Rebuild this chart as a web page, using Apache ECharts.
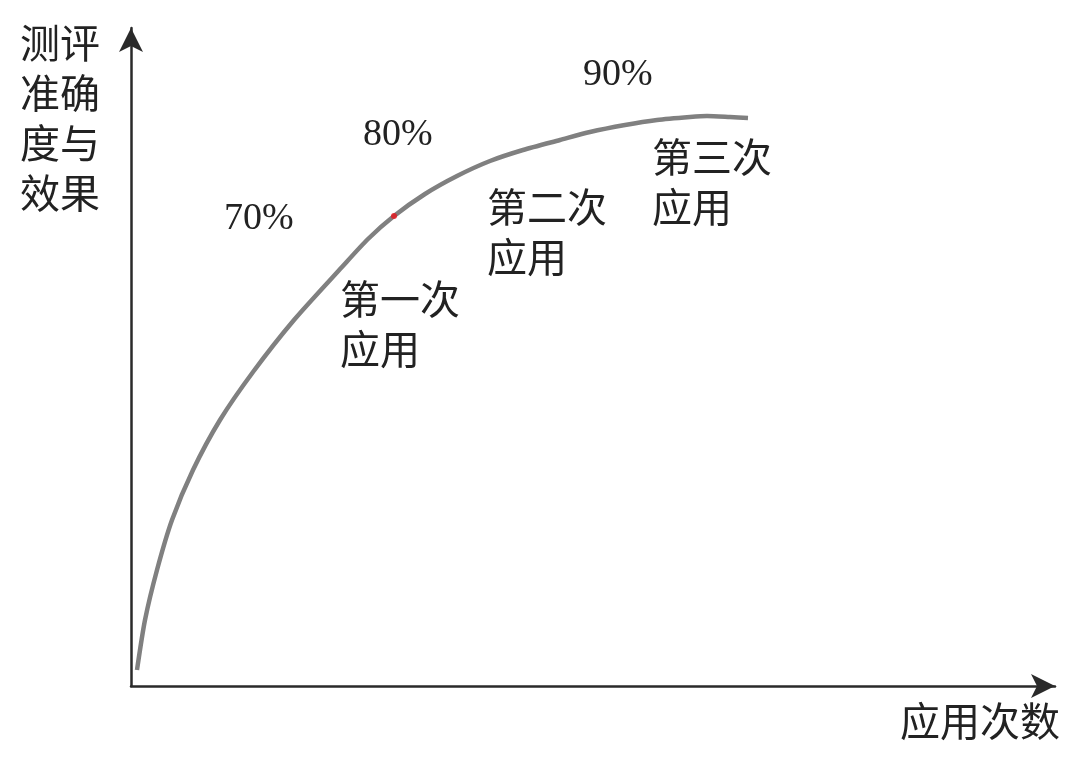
<!DOCTYPE html>
<html>
<head>
<meta charset="utf-8">
<script src="https://cdn.jsdelivr.net/npm/echarts@6/dist/echarts.min.js"></script>
<style>
  html, body { margin: 0; padding: 0; background: #fff; }
  #chart { width: 1080px; height: 764px; }
</style>
</head>
<body>
<div id="chart"></div>
<script>
// 曲线取点（应用次数, 测评准确度与效果）
const curveX = [6, 14, 26, 41, 62, 89, 122, 163, 211, 237, 263, 294, 326, 359, 392, 429, 459, 494, 526, 559, 576, 599, 617]
const curveY = [16, 66, 116, 166, 216, 266, 314, 366, 419, 447, 470, 492, 510, 525, 536, 546, 554, 561, 566, 569, 570, 569, 568]
const dotPoint = [263, 470]
const pctLabels = ['70%', '80%', '90%']
const stageLabels = ['第一次\n应用', '第二次\n应用', '第三次\n应用']

const chartDom = document.getElementById('chart')
const myChart = echarts.init(chartDom)

const serif = '"Liberation Serif", "DejaVu Serif", serif'
const cjk = '"Liberation Serif", "Noto Sans CJK SC", serif'

function txt(text, x, y, size, font, lh) {
  return {
    type: 'text',
    left: x,
    top: y,
    style: {
      text: text,
      fill: '#222',
      font: size + 'px ' + font,
      lineHeight: lh || size,
      align: 'center'
    }
  }
}

const option = {
  animation: false,
  backgroundColor: '#fff',
  grid: { left: 131, right: 25, top: 28, bottom: 78 },
  xAxis: {
    type: 'value',
    min: 0,
    max: 924,
    axisLine: {
      show: true,
      symbol: ['none', 'arrow'],
      symbolSize: [18, 24],
      lineStyle: { color: '#2a2a2a', width: 2.5 }
    },
    axisTick: { show: false },
    axisLabel: { show: false },
    splitLine: { show: false }
  },
  yAxis: {
    type: 'value',
    min: 0,
    max: 658,
    axisLine: {
      show: true,
      symbol: ['none', 'arrow'],
      symbolSize: [18, 24],
      lineStyle: { color: '#2a2a2a', width: 2.5 }
    },
    axisTick: { show: false },
    axisLabel: { show: false },
    splitLine: { show: false }
  },
  series: [
    {
      type: 'line',
      smooth: 0.25,
      showSymbol: false,
      lineStyle: { color: '#808080', width: 4.5 },
      data: curveX.map((x, i) => [x, curveY[i]])
    },
    {
      type: 'scatter',
      symbolSize: 6,
      itemStyle: { color: '#e8141c' },
      data: [dotPoint],
      z: 5
    }
  ],
  graphic: [
    txt(pctLabels[0], 224, 200, 38, serif),
    txt(pctLabels[1], 363, 116, 38, serif),
    txt(pctLabels[2], 583, 56, 38, serif),
    { type: 'text', left: 340, top: 278, style: { text: stageLabels[0], fill: '#222', font: '40px ' + cjk, lineHeight: 50, align: 'center' } },
    { type: 'text', left: 487, top: 186, style: { text: stageLabels[1], fill: '#222', font: '40px ' + cjk, lineHeight: 50, align: 'center' } },
    { type: 'text', left: 652, top: 136, style: { text: stageLabels[2], fill: '#222', font: '40px ' + cjk, lineHeight: 50, align: 'center' } },
    { type: 'text', left: 20, top: 22, style: { text: '测评\n准确\n度与\n效果', fill: '#222', font: '40px ' + cjk, lineHeight: 50 } },
    { type: 'text', left: 900, top: 705, style: { text: '应用次数', fill: '#222', font: '40px ' + cjk } }
  ]
}

option && myChart.setOption(option)
</script>
</body>
</html>
